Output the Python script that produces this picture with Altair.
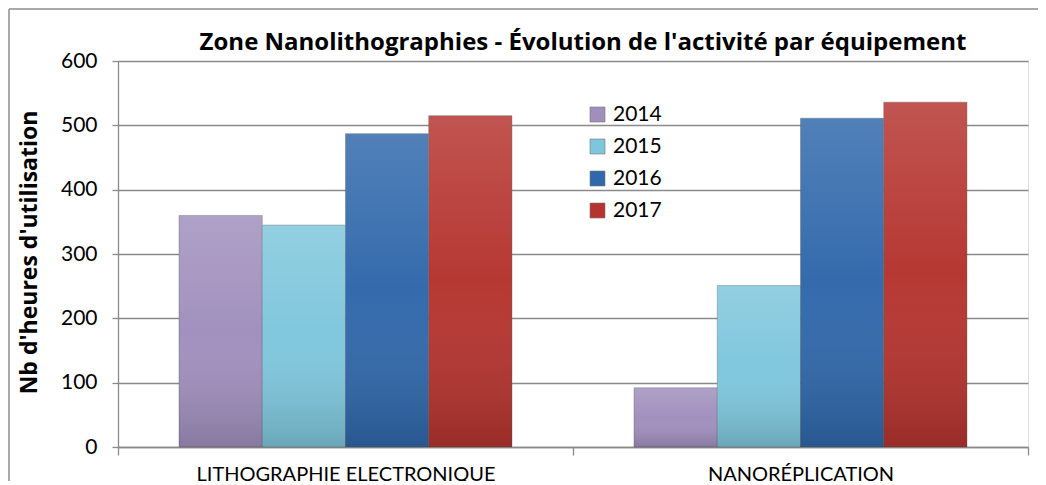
import altair as alt
import pandas as pd

categories = ["LITHOGRAPHIE ELECTRONIQUE", "NANORÉPLICATION"]
years = ["2014", "2015", "2016", "2017"]
litho_values = [360, 345, 487, 515]
nano_values = [92, 251, 511, 536]
year_colors = ["#a08fbd", "#7ec6dc", "#3068ab", "#b5342f"]
y_ticks = [0, 100, 200, 300, 400, 500, 600]
chart_title = "Zone Nanolithographies -  Évolution de l'activité par équipement"
y_title = "Nb d'heures d'utilisation"

rows = []
for cat, vals in zip(categories, [litho_values, nano_values]):
    for yr, v in zip(years, vals):
        rows.append({"cat": cat, "year": yr, "value": v})
df = pd.DataFrame(rows)

FONT = "Lato"
BOLD_FONT = "Open Sans"
GRID = "#8a8a8a"

x_enc = alt.X(
    "cat:N",
    sort=categories,
    scale=alt.Scale(paddingInner=0, paddingOuter=0),
    axis=alt.Axis(
        title=None, labelAngle=0, labelFont=FONT, labelFontSize=20, labelColor="#000",
        labelLimit=0, tickBand="extent", tickSize=8, tickColor=GRID, domainColor=GRID,
        domainWidth=1.3, tickWidth=1.3, labelPadding=9, grid=False,
    ),
)
xo_enc = alt.XOffset(
    "year:N", sort=years,
    scale=alt.Scale(domain=years, paddingInner=0, paddingOuter=0.733),
)
y_enc = alt.Y(
    "value:Q",
    scale=alt.Scale(domain=[0, 600], nice=False),
    axis=alt.Axis(
        values=y_ticks, title=y_title, titleFont=BOLD_FONT, titleFontSize=23, titleFontWeight="bold",
        titleColor="#000", titleAngle=-90, titleX=-89, titleY=191, titleAlign="center",
        titleBaseline="middle",
        labelFont=FONT, labelFontSize=21, labelColor="#000", labelPadding=15,
        tickSize=6, tickColor=GRID, tickWidth=1.3, domainColor=GRID, domainWidth=1.3,
        gridColor=GRID, gridWidth=1.3,
    ),
)

bars = alt.Chart(df).mark_bar(stroke="#555", strokeOpacity=0.45, strokeWidth=0.8).encode(
    x=x_enc,
    xOffset=xo_enc,
    y=y_enc,
    color=alt.Color(
        "year:N",
        sort=years,
        scale=alt.Scale(domain=years, range=year_colors),
        legend=alt.Legend(
            title=None, orient="none", legendX=469, legendY=43, direction="vertical",
            symbolType="square", symbolSize=225, symbolStrokeColor="#777", symbolStrokeWidth=0.6,
            labelFont=FONT, labelFontSize=21, labelColor="#000", rowPadding=10, labelOffset=5,
        ),
    ),
)

shade = alt.Chart(df).mark_bar(
    color={
        "gradient": "linear", "x1": 0, "y1": 0, "x2": 0, "y2": 1,
        "stops": [
            {"offset": 0, "color": "rgba(255,255,255,0.16)"},
            {"offset": 0.5, "color": "rgba(255,255,255,0.02)"},
            {"offset": 1, "color": "rgba(0,0,0,0.16)"},
        ],
    }
).encode(x=alt.X("cat:N", sort=categories), xOffset=alt.XOffset("year:N", sort=years), y="value:Q")

title_mark = alt.Chart(pd.DataFrame({"t": [chart_title]})).mark_text(
    font=BOLD_FONT, fontSize=24, fontWeight="bold", color="#000", align="center", baseline="alphabetic"
).encode(x=alt.value(465), y=alt.value(-11), text="t:N")

frame_left = alt.Chart(pd.DataFrame({"a": [0]})).mark_rule(color="#8c8c8c", strokeWidth=1.5).encode(
    x=alt.value(-109), y=alt.value(-52), y2=alt.value(500)
)
frame_top = alt.Chart(pd.DataFrame({"a": [0]})).mark_rule(color="#8c8c8c", strokeWidth=1.5).encode(
    x=alt.value(-109), x2=alt.value(1000), y=alt.value(-52)
)

chart = alt.layer(bars, shade, title_mark, frame_left, frame_top).properties(
    width=910,
    height=386,
    autosize=alt.AutoSizeParams(type="none"),
    padding={"left": 110, "top": 53, "right": 10, "bottom": 34},
).configure_view(stroke=None).configure(background="white")

chart.save("out.html", embed_options={"renderer": "svg", "actions": False})
